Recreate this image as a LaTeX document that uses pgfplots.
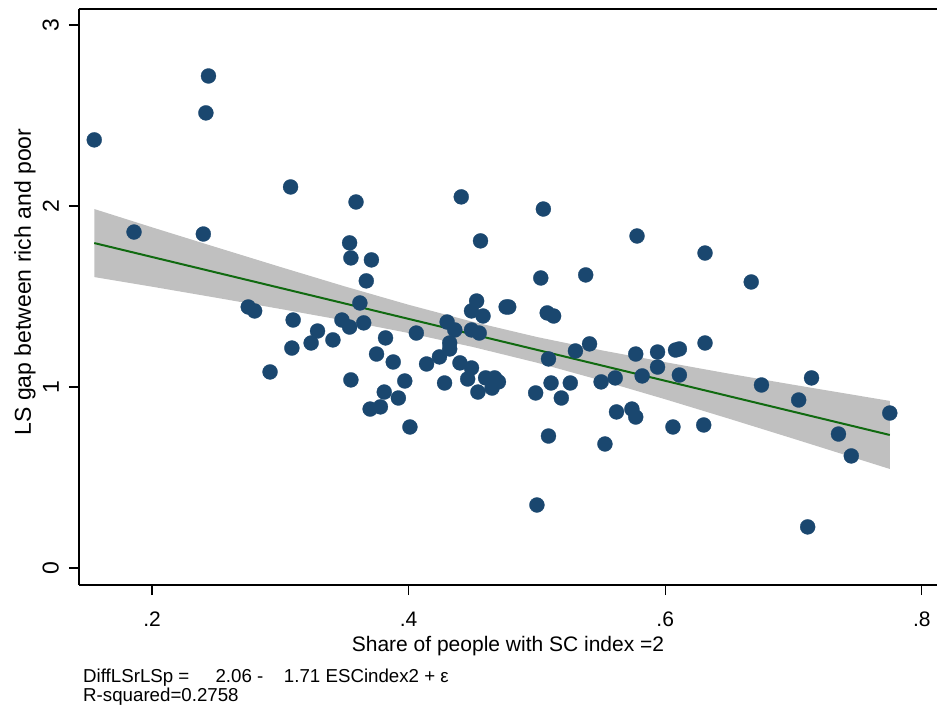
\documentclass[border=0pt]{standalone}
\usepackage{fontspec}
\setmainfont{Liberation Sans}
\usepackage{pgfplots}
\pgfplotsset{compat=1.18}
\definecolor{stnavy}{RGB}{26,71,111}
\definecolor{stgreen}{RGB}{16,106,16}
\definecolor{cigray}{RGB}{192,192,192}
\begin{document}
\begin{tikzpicture}
\begin{axis}[
  name=ax, at={(0,0)}, anchor=south west,
  scale only axis, width=858bp, height=576bp,
  xmin=0.1431, xmax=0.8118, ymin=-0.094, ymax=3.088,
  axis x line*=bottom, axis y line*=left,
  axis line style={line width=1.6bp, black, -},
  xtick={0.2,0.4,0.6,0.8}, xticklabels={.2,.4,.6,.8},
  ytick={0,1,2,3}, yticklabels={0,1,2,3},
  tick align=outside, major tick length=10bp,
  tick style={line width=1.2bp, black},
  ticklabel style={font=\fontsize{21bp}{25bp}\selectfont, inner sep=0pt},
  xticklabel style={anchor=base, yshift=-31bp},
  yticklabel style={rotate=90, anchor=south, yshift=10bp, font=\fontsize{23bp}{27bp}\selectfont},
  xlabel={Share of people with SC index =2},
  ylabel={LS gap between rich and poor},
  xlabel style={at={(axis description cs:0.5,-0.1146)}, anchor=base, font=\fontsize{21bp}{25bp}\selectfont, inner sep=0pt},
  ylabel style={at={(axis description cs:-0.0629,0.526)}, anchor=center, font=\fontsize{23bp}{27bp}\selectfont, inner sep=0pt},
  extra description/.code={\draw[line width=1.6bp] (rel axis cs:0,1) -- (rel axis cs:1,1);},
  clip=false,
]
\addplot[fill=cigray, draw=none] coordinates {
 (0.155,1.983) (0.2,1.882) (0.25,1.772) (0.3,1.663) (0.35,1.556) (0.4,1.454) (0.45,1.360)
 (0.5,1.276) (0.55,1.203) (0.6,1.137) (0.65,1.073) (0.7,1.012) (0.775,0.923)
 (0.775,0.547) (0.7,0.714) (0.65,0.824) (0.6,0.932) (0.55,1.036) (0.5,1.134) (0.45,1.221)
 (0.4,1.298) (0.35,1.367) (0.3,1.431) (0.25,1.493) (0.2,1.554) (0.155,1.607)
} -- cycle;
\addplot[stgreen, line width=2bp] coordinates {(0.155,1.795) (0.775,0.7348)};
\addplot[only marks, mark=*, mark size=7.5bp, mark options={fill=stnavy, draw=stnavy, line width=0.3bp}] table {
x y
0.155 2.365
0.186 1.856
0.244 2.718
0.242 2.514
0.240 1.845
0.275 1.442
0.280 1.420
0.292 1.083
0.308 2.105
0.310 1.370
0.309 1.215
0.324 1.243
0.329 1.309
0.341 1.260
0.348 1.370
0.354 1.796
0.355 1.713
0.355 1.039
0.354 1.331
0.359 2.022
0.362 1.464
0.365 1.354
0.367 1.586
0.371 1.702
0.370 0.878
0.375 1.182
0.378 0.890
0.381 0.972
0.382 1.271
0.388 1.138
0.392 0.939
0.397 1.033
0.401 0.779
0.406 1.298
0.414 1.127
0.424 1.166
0.428 1.022
0.430 1.359
0.432 1.243
0.432 1.210
0.436 1.315
0.440 1.133
0.441 2.050
0.446 1.044
0.449 1.105
0.449 1.420
0.449 1.315
0.453 1.475
0.455 1.298
0.454 0.972
0.456 1.807
0.458 1.392
0.460 1.050
0.465 0.994
0.467 1.050
0.470 1.028
0.476 1.442
0.478 1.442
0.499 0.967
0.500 0.348
0.503 1.602
0.505 1.983
0.508 1.409
0.509 1.155
0.509 0.729
0.511 1.022
0.513 1.392
0.519 0.939
0.526 1.022
0.530 1.199
0.538 1.619
0.541 1.238
0.550 1.028
0.553 0.685
0.561 1.050
0.562 0.862
0.574 0.878
0.577 0.834
0.577 1.182
0.578 1.834
0.582 1.061
0.594 1.193
0.594 1.110
0.606 0.779
0.608 1.204
0.611 1.210
0.611 1.066
0.630 0.790
0.631 1.243
0.631 1.740
0.667 1.580
0.675 1.011
0.704 0.928
0.711 0.227
0.714 1.050
0.735 0.740
0.745 0.619
0.775 0.856
};
\node[anchor=base west, inner sep=0pt, font=\fontsize{18.7bp}{20bp}\selectfont] at (axis description cs:0.0047,-0.1701) {DiffLSrLSp =\hspace{1.4em}2.06 -\hspace{1.1em}1.71 ESCindex2 + ε};
\node[anchor=base west, inner sep=0pt, font=\fontsize{18.7bp}{20bp}\selectfont] at (axis description cs:0.0047,-0.2031) {R-squared=0.2758};
\end{axis}
\pgfresetboundingbox
\useasboundingbox (-79bp,-124bp) rectangle (858bp,585bp);
\end{tikzpicture}
\end{document}
